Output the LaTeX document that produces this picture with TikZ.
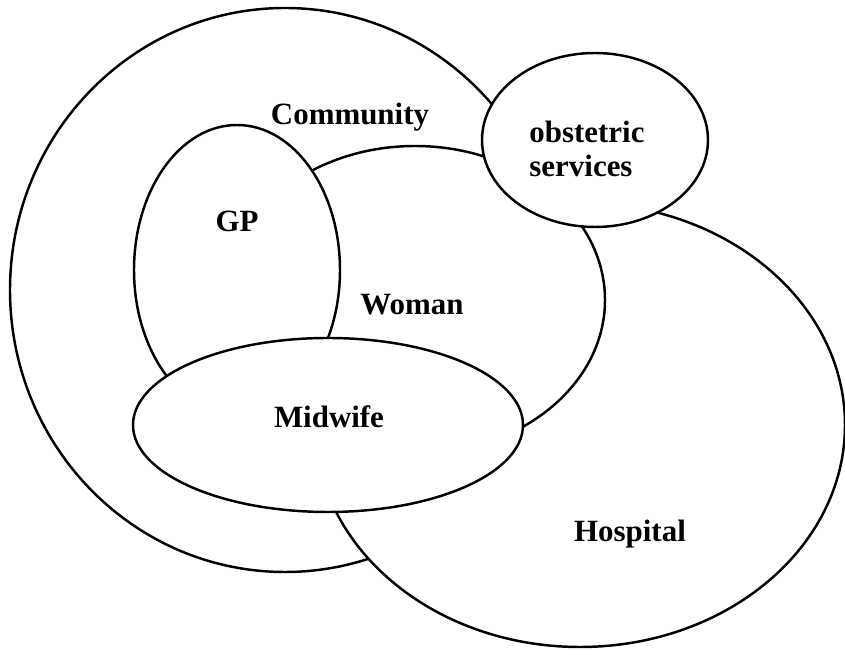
\documentclass[tikz,border=0pt]{standalone}
\usepackage{fontspec}
\setmainfont{Liberation Serif}
\usetikzlibrary{shapes, positioning}

\tikzset{
    region/.style={ellipse, draw, fill=white, inner sep=0pt},
    tag/.style={anchor=base, inner sep=0pt}
}

\begin{document}
\begin{tikzpicture}[line width=0.7pt, font=\fontsize{8.8}{9.7}\selectfont\bfseries]
        \useasboundingbox (0, 0) rectangle (8.45, -6.5);

        % regions, back to front
        \node[region, minimum width=5.5cm, minimum height=5.64cm] (community) at (2.85, -2.9) {};
        \node[region, minimum width=5.3cm, minimum height=4.44cm] (hospital) at (5.8, -4.25) {};
        \node[region, minimum width=3.8cm, minimum height=3.08cm] (woman) at (4.15, -3.0) {};
        \node[region, minimum width=2.06cm, minimum height=2.9cm] (gp) at (2.37, -2.7) {};
        \node[region, minimum width=3.9cm, minimum height=1.74cm] (midwife) at (3.28, -4.25) {};
        \node[region, minimum width=2.26cm, minimum height=1.74cm] (obstetric) at (5.95, -1.4) {};

        % labels
        \node[tag] (communitylabel) at (3.5, -1.25) {Community};
        \node[tag] (gplabel) at (2.37, -2.32) {GP};
        \node[tag] (womanlabel) at (4.12, -3.15) {Woman};
        \node[tag] (midwifelabel) at (3.29, -4.28) {Midwife};
        \node[tag] (hospitallabel) at (6.3, -5.42) {Hospital};
        \node[inner sep=0pt, align=left] (obstetriclabel) at (5.87, -1.49) {obstetric\\services};
\end{tikzpicture}
\end{document}
